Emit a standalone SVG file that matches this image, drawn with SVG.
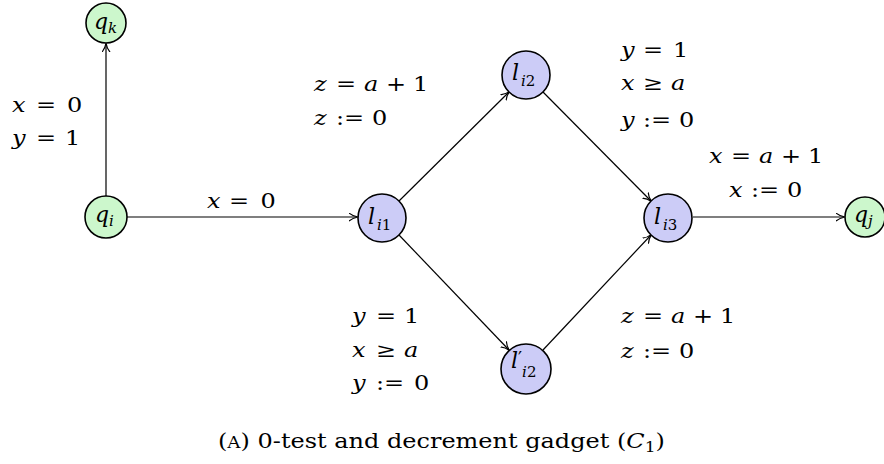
<svg xmlns="http://www.w3.org/2000/svg" width="884" height="464" viewBox="0 0 884 464">
<style>
.g{fill:#ccf7cc;stroke:#000;stroke-width:1.6}
.b{fill:#ccccf7;stroke:#000;stroke-width:1.6}
.e{stroke:#000;stroke-width:1.2;fill:none;marker-end:url(#ar)}
.t{font-family:'DejaVu Serif',serif;font-size:20px;fill:#000}
.n{font-family:'DejaVu Serif',serif;font-size:22px;fill:#000}
.i{font-style:italic}
.s{font-size:15px}
.c{font-family:'DejaVu Serif',serif;font-size:21px;fill:#000}
</style>
<defs>
<marker id="ar" viewBox="0 0 10 10" refX="9" refY="5" markerWidth="9" markerHeight="9" markerUnits="userSpaceOnUse" orient="auto">
<path d="M0,0.5 Q4,4 10,5 Q4,6 0,9.5" fill="none" stroke="#000" stroke-width="1.3"/>
</marker>
</defs>
<g id="edges">
<line class="e" x1="106" y1="196" x2="106" y2="44"/>
<line class="e" x1="127" y1="217" x2="357" y2="217"/>
<line class="e" x1="399" y1="201" x2="509" y2="92"/>
<line class="e" x1="399" y1="235" x2="509" y2="350"/>
<line class="e" x1="543" y1="92" x2="651" y2="201"/>
<line class="e" x1="543" y1="350" x2="651" y2="235"/>
<line class="e" x1="693" y1="217" x2="844" y2="217"/>
</g>
<g id="qk"><circle class="g" cx="106" cy="23" r="20"/><text class="n"><tspan class="i" x="94" y="29">q</tspan><tspan class="s i" x="108" y="33">k</tspan></text></g>
<g id="qi"><circle class="g" cx="106" cy="217" r="21"/><text class="n"><tspan class="i" x="95" y="222">q</tspan><tspan class="s i" x="109" y="226">i</tspan></text></g>
<g id="li1"><circle class="b" cx="382" cy="218" r="24"/><text class="n"><tspan class="i" x="368" y="224">l</tspan><tspan class="s i" x="377" y="230">i</tspan><tspan class="s" y="230">1</tspan></text></g>
<g id="li2"><circle class="b" cx="526" cy="75" r="24"/><text class="n"><tspan class="i" x="512" y="80">l</tspan><tspan class="s i" x="521" y="86">i</tspan><tspan class="s" y="86">2</tspan></text></g>
<g id="li2p"><circle class="b" cx="526" cy="369" r="25"/><text class="n"><tspan class="i" x="511" y="368">l</tspan><tspan font-size="18" x="518" y="365">′</tspan><tspan class="s i" y="377">i</tspan><tspan class="s" y="377">2</tspan></text></g>
<g id="li3"><circle class="b" cx="668" cy="218" r="24"/><text class="n"><tspan class="i" x="654" y="224">l</tspan><tspan class="s i" x="663" y="230">i</tspan><tspan class="s" y="230">3</tspan></text></g>
<g id="qj"><circle class="g" cx="865" cy="217" r="20"/><text class="n"><tspan class="i" x="854" y="222">q</tspan><tspan class="s i" x="868" y="226">j</tspan></text></g>
<g id="labels" class="t" transform="scale(1.2,1)">
<text><tspan class="i" x="10" y="112">x</tspan><tspan x="30" y="112">=</tspan><tspan x="55.83" y="112">0</tspan></text>
<text><tspan class="i" x="10" y="145">y</tspan><tspan x="30" y="145">=</tspan><tspan x="54.17" y="145">1</tspan></text>
<text><tspan class="i" x="172.5" y="208">x</tspan><tspan x="190.83" y="208">=</tspan><tspan x="217" y="208">0</tspan></text>
<text><tspan class="i" x="261.67" y="91">z</tspan><tspan x="280" y="91">=</tspan><tspan class="i" x="303.33" y="91">a</tspan><tspan x="321.67" y="91">+</tspan><tspan x="344.17" y="91">1</tspan></text>
<text><tspan class="i" x="261.67" y="125">z</tspan><tspan x="280" y="125">:=</tspan><tspan x="310" y="125">0</tspan></text>
<text><tspan class="i" x="517.5" y="57">y</tspan><tspan x="535.83" y="57">=</tspan><tspan x="560.83" y="57">1</tspan></text>
<text><tspan class="i" x="517.5" y="90">x</tspan><tspan x="535.83" y="90">≥</tspan><tspan class="i" x="559.17" y="90">a</tspan></text>
<text><tspan class="i" x="517.5" y="127">y</tspan><tspan x="535.83" y="127">:=</tspan><tspan x="565.83" y="127">0</tspan></text>
<text><tspan class="i" x="590.83" y="163">x</tspan><tspan x="609.17" y="163">=</tspan><tspan class="i" x="632.5" y="163">a</tspan><tspan x="650.83" y="163">+</tspan><tspan x="673.33" y="163">1</tspan></text>
<text><tspan class="i" x="607.5" y="197">x</tspan><tspan x="625.83" y="197">:=</tspan><tspan x="655.83" y="197">0</tspan></text>
<text><tspan class="i" x="293.33" y="323">y</tspan><tspan x="313.33" y="323">=</tspan><tspan x="336.67" y="323">1</tspan></text>
<text><tspan class="i" x="293.33" y="357">x</tspan><tspan x="313.33" y="357">≥</tspan><tspan class="i" x="336.67" y="357">a</tspan></text>
<text><tspan class="i" x="293.33" y="390">y</tspan><tspan x="313.33" y="390">:=</tspan><tspan x="345" y="390">0</tspan></text>
<text><tspan class="i" x="517.5" y="323">z</tspan><tspan x="535.83" y="323">=</tspan><tspan class="i" x="559.17" y="323">a</tspan><tspan x="577.5" y="323">+</tspan><tspan x="600" y="323">1</tspan></text>
<text><tspan class="i" x="517.5" y="358">z</tspan><tspan x="535.83" y="358">:=</tspan><tspan x="565.83" y="358">0</tspan></text>
</g>
<text class="c" x="218" y="448" textLength="447" lengthAdjust="spacingAndGlyphs">(<tspan font-size="16">A</tspan>) 0-test and decrement gadget (<tspan class="i">C</tspan><tspan font-size="15" dy="4">1</tspan><tspan dy="-4">)</tspan></text>
</svg>
